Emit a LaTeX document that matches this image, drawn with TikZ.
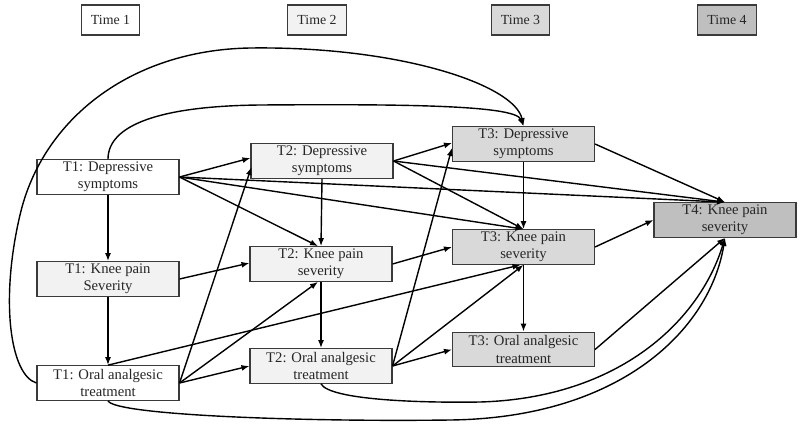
\documentclass[tikz,border=0pt]{standalone}
\usepackage{fontspec}
\setmainfont{Liberation Serif}
\usetikzlibrary{arrows.meta,calc}
\definecolor{gA}{HTML}{F2F2F2}
\definecolor{gB}{HTML}{D9D9D9}
\definecolor{gC}{HTML}{BFBFBF}
\definecolor{bord}{HTML}{3A3A3A}
\tikzset{
  box/.style={draw=bord, line width=0.8pt, minimum width=106.5pt, minimum height=26pt,
    inner sep=0pt, align=center, font=\fontsize{11}{12.8}\selectfont, text=black!85},
  hdr/.style={draw=bord, line width=0.8pt, minimum width=44pt, minimum height=22.5pt,
    inner sep=0pt, font=\fontsize{10.4}{12}\selectfont, text=black!85},
  arr/.style={line width=1.05pt, -{Latex[length=6pt,width=4.5pt]}},
}
\begin{document}
\begin{tikzpicture}[x=0.75pt,y=-0.75pt]
\useasboundingbox (0,0) rectangle (800,425);
% headers
\node[hdr,fill=white] (h1) at (110.5,20) {Time 1};
\node[hdr,fill=gA] (h2) at (317,20) {Time 2};
\node[hdr,fill=gB] (h3) at (520.5,20) {Time 3};
\node[hdr,fill=gC] (h4) at (727,20) {Time 4};
% nodes
\node[box,fill=white] (t1d) at (108,177) {T1: Depressive\\symptoms};
\node[box,fill=gA] (t1k) at (108,279) {T1: Knee pain\\Severity};
\node[box,fill=white] (t1o) at (108,383) {T1: Oral analgesic\\treatment};
\node[box,fill=gA] (t2d) at (322,161) {T2: Depressive\\symptoms};
\node[box,fill=gA] (t2k) at (321,264) {T2: Knee pain\\severity};
\node[box,fill=gA] (t2o) at (321,366) {T2: Oral analgesic\\treatment};
\node[box,fill=gB] (t3d) at (523.5,144) {T3: Depressive\\symptoms};
\node[box,fill=gB] (t3k) at (523.5,247) {T3: Knee pain\\severity};
\node[box,fill=gB] (t3o) at (523.5,349.5) {T3: Oral analgesic\\treatment};
\node[box,fill=gC] (t4k) at (725,220) {T4: Knee pain\\severity};
% vertical arrows
\draw[arr] (t1d.south) -- (t1k.north);
\draw[arr] (t1k.south) -- (t1o.north);
\draw[arr] (t2d.south) -- (t2k.north);
\draw[arr] (t2k.south) -- (t2o.north);
\draw[arr] (t3d.south) -- (t3k.north);
\draw[arr] (t3k.south) -- (t3o.north);
% from T1 depressive
\draw[arr] (t1d.east) -- ($(t2d.west)+(0,-3)$);
\draw[arr] (t1d.east) -- ($(t2k.north)+(-3,0)$);
\draw[arr] (t1d.east) -- (t3k.north);
\draw[arr] (t1d.east) -- (t4k.north);
% from T1 knee
\draw[arr] (t1k.east) -- ($(t2k.west)+(0,-1)$);
% from T1 oral
\draw[arr] (t1o.east) -- ($(t2d.west)+(1,6)$);
\draw[arr] (t1o.east) -- ($(t2k.south)+(-3,0)$);
\draw[arr] (t1o.east) -- (t2o.west);
\draw[arr] (t1o.north) -- ($(t3k.south)+(-3,0)$);
% from T2
\draw[arr] (t2d.east) -- ($(t3d.west)+(0,-1)$);
\draw[arr] (t2d.east) -- (t3k.north);
\draw[arr] (t2d.east) -- (t4k.north);
\draw[arr] (t2k.east) -- (t3k.west);
\draw[arr] (t2o.east) -- ($(t3d.west)+(0,4)$);
\draw[arr] (t2o.east) -- (t3k.south);
\draw[arr] (t2o.east) -- (t3o.west);
% from T3
\draw[arr] (t3d.east) -- (t4k.north);
\draw[arr] (t3k.east) -- (t4k.west);
\draw[arr] (t3o.east) -- (t4k.south);
% curves
\draw[arr] (t1o.west) .. controls (10,375) and (0,300) .. (20,215)
  .. controls (42,120) and (130,50) .. (250,48)
  .. controls (400,46) and (515,85) .. (t3d.north);
\draw[arr] (t1d.north) .. controls (108,125) and (160,106) .. (260,105)
  .. controls (400,104) and (515,105) .. (t3d.north);
\draw[arr] (t1o.south) .. controls (115,415) and (300,422) .. (450,420)
  .. controls (620,418) and (710,330) .. (t4k.south);
\draw[arr] (t2o.south) .. controls (330,400) and (420,403) .. (480,402)
  .. controls (620,398) and (700,320) .. (t4k.south);
\end{tikzpicture}
\end{document}
